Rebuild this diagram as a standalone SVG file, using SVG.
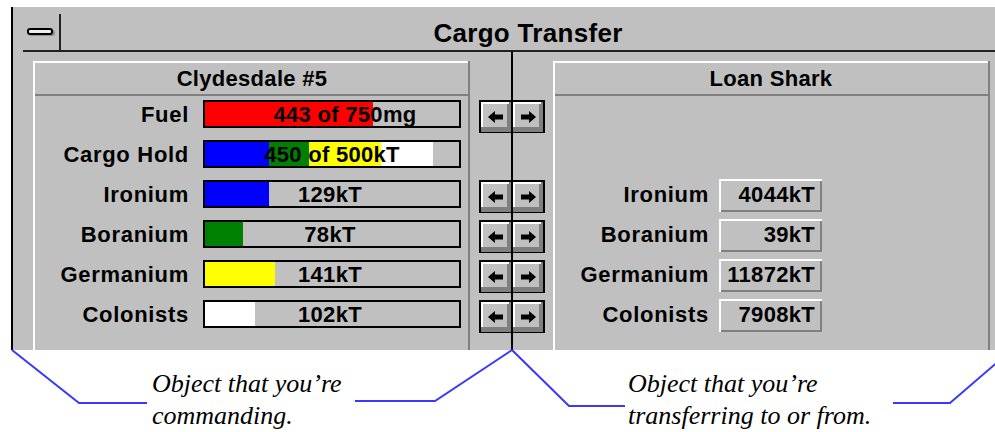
<svg xmlns="http://www.w3.org/2000/svg" width="995" height="432" viewBox="0 0 995 432">
<defs>
<style>
.lbl{font-family:"Liberation Sans",Arial,sans-serif;font-weight:bold;font-size:22px;fill:#000;letter-spacing:0.3px}
.nm{letter-spacing:0.7px}
.r{text-anchor:end}
.m{text-anchor:middle}
.bar{fill:#c0c0c0;stroke:#000;stroke-width:2}
.note{font-family:"Liberation Serif","Times New Roman",serif;font-style:italic;font-size:26px;fill:#000}
.call{fill:none;stroke:#3838ff;stroke-width:2}
.hl{fill:#fff}
.sh{fill:#808080}
</style>
<g id="btn">
<rect x="1" y="1" width="64" height="31" fill="#c0c0c0" stroke="#000" stroke-width="2"/>
<path class="sh" d="M2 27H32V32H2Z M28 2H32V32H28Z M34 27H64V32H34Z M60 2H64V32H60Z"/>
<path class="hl" d="M2 2H30V4H4V27H2Z M34 2H62V4H36V27H34Z"/>
<rect x="32" y="1" width="2" height="31" fill="#000"/>
<path d="M9 17L16 11V14.5H24V19.5H16V23Z M57 17L50 11V14.5H42V19.5H50V23Z" fill="#000"/>
</g>
<g id="vbox">
<rect x="0" y="0" width="103" height="33" fill="#c0c0c0"/>
<path class="hl" d="M0 0H103V2H2V33H0Z"/>
<path class="sh" d="M101 2H103V33H2V31H101Z"/>
</g>
</defs>
<rect width="995" height="432" fill="#fff"/>
<g id="window">
<rect x="11" y="7" width="984" height="343" fill="#c0c0c0"/>
<rect x="11" y="7" width="2" height="343" fill="#000"/>
</g>
<g id="title-bar">
<rect x="29" y="30" width="26" height="6" rx="2" fill="#909090"/>
<rect x="28" y="29" width="24" height="5" rx="2" fill="#eeeeee" stroke="#000" stroke-width="2"/>
<rect x="59" y="14" width="2" height="37" fill="#222"/>
<rect x="23" y="50" width="972" height="2" fill="#222"/>
<text x="528" y="42" class="lbl m" style="font-size:26px">Cargo Transfer</text>
</g>
<g id="panel-left">
<rect x="33" y="61" width="437" height="2" class="hl"/>
<rect x="33" y="61" width="2" height="289" class="hl"/>
<rect x="35" y="94" width="433" height="2" class="sh"/>
<rect x="468" y="61" width="2" height="289" class="sh"/>
<text x="252" y="86" class="lbl m">Clydesdale #5</text>
</g>
<g id="row-fuel">
<text x="189" y="122" class="lbl nm r">Fuel</text>
<rect x="204" y="101" width="256" height="26" class="bar"/>
<rect x="205" y="102" width="168" height="24" fill="#ff0000"/>
<text x="345" y="122" class="lbl m">443 of 750mg</text>
<use href="#btn" x="479" y="100"/>
</g>
<g id="row-cargo">
<text x="189" y="162" class="lbl nm r">Cargo Hold</text>
<rect x="204" y="141" width="256" height="26" class="bar"/>
<rect x="205" y="142" width="64" height="24" fill="#0000ff"/>
<rect x="269" y="142" width="40" height="24" fill="#008000"/>
<rect x="309" y="142" width="72" height="24" fill="#ffff00"/>
<rect x="381" y="142" width="52" height="24" fill="#ffffff"/>
<text x="332" y="162" class="lbl m">450 of 500kT</text>
</g>
<g id="row-ironium">
<text x="189" y="202" class="lbl nm r">Ironium</text>
<rect x="204" y="181" width="256" height="26" class="bar"/>
<rect x="205" y="182" width="64" height="24" fill="#0000ff"/>
<text x="330" y="202" class="lbl m">129kT</text>
<use href="#btn" x="479" y="180"/>
</g>
<g id="row-boranium">
<text x="189" y="242" class="lbl nm r">Boranium</text>
<rect x="204" y="221" width="256" height="26" class="bar"/>
<rect x="205" y="222" width="38" height="24" fill="#008000"/>
<text x="330" y="242" class="lbl m">78kT</text>
<use href="#btn" x="479" y="220"/>
</g>
<g id="row-germanium">
<text x="189" y="282" class="lbl nm r">Germanium</text>
<rect x="204" y="261" width="256" height="26" class="bar"/>
<rect x="205" y="262" width="70" height="24" fill="#ffff00"/>
<text x="330" y="282" class="lbl m">141kT</text>
<use href="#btn" x="479" y="260"/>
</g>
<g id="row-colonists">
<text x="189" y="322" class="lbl nm r">Colonists</text>
<rect x="204" y="301" width="256" height="26" class="bar"/>
<rect x="205" y="302" width="50" height="24" fill="#ffffff"/>
<text x="330" y="322" class="lbl m">102kT</text>
<use href="#btn" x="479" y="300"/>
</g>
<g id="panel-right">
<rect x="553" y="61" width="437" height="2" class="hl"/>
<rect x="553" y="61" width="2" height="289" class="hl"/>
<rect x="555" y="94" width="433" height="2" class="sh"/>
<rect x="988" y="61" width="2" height="289" class="sh"/>
<text x="771" y="86" class="lbl m">Loan Shark</text>
</g>
<g id="target-ironium">
<text x="709" y="202" class="lbl nm r">Ironium</text>
<use href="#vbox" x="719" y="179"/>
<text x="815" y="202" class="lbl r">4044kT</text>
</g>
<g id="target-boranium">
<text x="709" y="242" class="lbl nm r">Boranium</text>
<use href="#vbox" x="719" y="219"/>
<text x="815" y="242" class="lbl r">39kT</text>
</g>
<g id="target-germanium">
<text x="709" y="282" class="lbl nm r">Germanium</text>
<use href="#vbox" x="719" y="259"/>
<text x="815" y="282" class="lbl r">11872kT</text>
</g>
<g id="target-colonists">
<text x="709" y="322" class="lbl nm r">Colonists</text>
<use href="#vbox" x="719" y="299"/>
<text x="815" y="322" class="lbl r">7908kT</text>
</g>
<g id="connectors">
<rect x="511" y="51" width="2" height="299" fill="#000"/>
<polyline class="call" points="12,350 79,403 147,403"/>
<polyline class="call" points="355,401 435,401 512,350"/>
<polyline class="call" points="512,350 569,406 625,406"/>
<polyline class="call" points="893,403 950,403 1000,360"/>
</g>
<g id="note-left">
<text x="152" y="392" class="note">Object that you’re</text>
<text x="152" y="424" class="note">commanding.</text>
</g>
<g id="note-right">
<text x="628" y="392" class="note">Object that you’re</text>
<text x="628" y="424" class="note">transferring to or from.</text>
</g>
</svg>
